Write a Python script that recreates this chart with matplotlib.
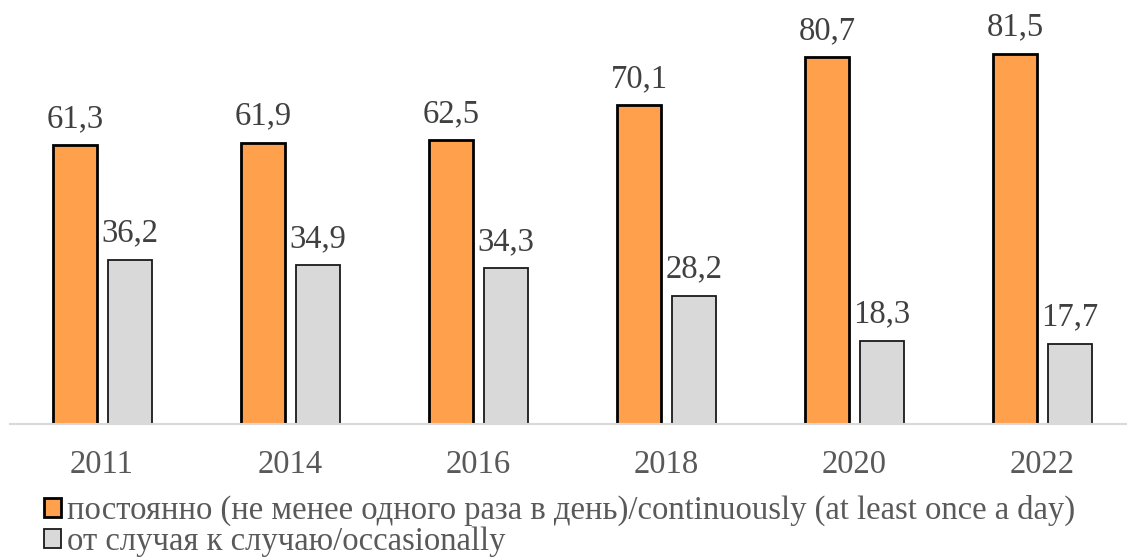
import matplotlib
matplotlib.use('Agg')
import matplotlib.pyplot as plt
from matplotlib.patches import Patch
import numpy as np

# --- data ---
years = ['2011', '2014', '2016', '2018', '2020', '2022']
daily = [61.3, 61.9, 62.5, 70.1, 80.7, 81.5]
occasional = [36.2, 34.9, 34.3, 28.2, 18.3, 17.7]
legend_labels = ['постоянно (не менее одного раза в день)/continuously (at least once a day)',
                 'от случая к случаю/occasionally']

plt.rcParams['font.family'] = ['Liberation Serif', 'DejaVu Serif']

ORANGE = '#ffa04d'
GRAY = '#d9d9d9'

fig = plt.figure(figsize=(11.27, 5.58), dpi=100)
ax = fig.add_axes([0.0, 0.2401, 1.0, 0.733])

x = np.arange(len(years))
w = 0.234
ax.bar(x - 0.143, daily, w, color=ORANGE, edgecolor='black', linewidth=2.0)
ax.bar(x + 0.148, occasional, w, color=GRAY, edgecolor='#1a1a1a', linewidth=1.3)

for xi, v in zip(x, daily):
    ax.annotate(f'{v:.1f}'.replace('.', ','), (xi - 0.143, v), xytext=(0, 8),
                textcoords='offset points', ha='center', va='bottom',
                fontsize=23.5, color='#404040')
for xi, v in zip(x, occasional):
    ax.annotate(f'{v:.1f}'.replace('.', ','), (xi + 0.148, v), xytext=(0, 8),
                textcoords='offset points', ha='center', va='bottom',
                fontsize=23.5, color='#404040')

ax.set_xlim(-0.5426, 5.452)
ax.set_ylim(0, 90)
ax.set_xticks(x)
ax.set_xticklabels(years, fontsize=23.5, color='#595959')
ax.tick_params(axis='x', length=0, pad=18)
ax.set_yticks([])
for s in ['top', 'right', 'left']:
    ax.spines[s].set_visible(False)
ax.spines['bottom'].set_color('#d9d9d9')
ax.spines['bottom'].set_linewidth(1.5)
ax.spines['bottom'].set_bounds(-0.49, 5.452)

handles = [Patch(facecolor=ORANGE, edgecolor='black', linewidth=2.0),
           Patch(facecolor=GRAY, edgecolor='#1a1a1a', linewidth=1.3)]
fig.legend(handles, legend_labels, loc='upper left', bbox_to_anchor=(0.039, 0.113),
           frameon=False, fontsize=23.5, labelcolor='#595959',
           handlelength=0.52, handleheight=0.52, handletextpad=0.2,
           labelspacing=0.0, borderpad=0, borderaxespad=0)

fig.savefig('out.png', dpi=100)
